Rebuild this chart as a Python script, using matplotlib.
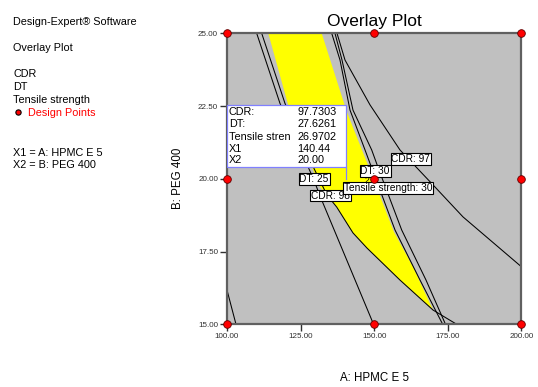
import matplotlib
matplotlib.use("Agg")
import matplotlib.pyplot as plt
from matplotlib.patches import Polygon, Rectangle
from matplotlib.lines import Line2D

plt.rcParams['font.family'] = ['Liberation Sans', 'DejaVu Sans']

# contour lines (A: HPMC E 5, B: PEG 400)
dt25_x = [110.09, 118.01, 129.22, 132.18, 149.8]
dt25_y = [25.0, 22.59, 20.03, 19.27, 15.0]

cdr98_x = [111.79, 119.71, 126.5, 133.98, 137.27, 142.81, 147.57, 158.78, 170.0, 178.05]
cdr98_y = [25.0, 22.59, 20.99, 19.44, 19.03, 18.14, 17.62, 16.52, 15.49, 15.0]

dt30_x = [135.58, 138.40, 141.80, 146.90, 149.44, 157.09, 165.58, 173.29]
dt30_y = [25.0, 24.08, 22.36, 20.99, 20.30, 18.24, 16.52, 15.0]

ts30_x = [136.70, 139.08, 142.81, 149.17, 151.65, 159.36, 167.62, 174.24]
ts30_y = [25.0, 24.08, 22.36, 20.99, 20.30, 18.24, 16.52, 15.0]

cdr97_x = [137.38, 140.10, 148.59, 158.78, 170.0, 180.19, 200.0]
cdr97_y = [25.0, 24.08, 22.54, 20.99, 19.79, 18.69, 16.98]

corner_x = [100.0, 103.06]
corner_y = [16.18, 15.0]

# yellow (feasible) region
yellow_x = [114.03, 132.18, 140.67, 148.59, 156.74, 163.20, 170.0,
            158.78, 147.57, 142.81, 137.27, 136.02, 131.6, 126.5, 121.41]
yellow_y = [25.0, 25.0, 22.31, 20.30, 18.17, 16.97, 15.49,
            16.52, 17.62, 18.14, 19.03, 19.17, 19.72, 20.99, 22.31]

# design points
design_x = [100, 150, 200, 100, 150, 200, 100, 150, 200]
design_y = [15, 15, 15, 20, 20, 20, 25, 25, 25]

# contour labels
labels = ["DT: 25", "CDR: 98", "DT: 30", "Tensile strength: 30", "CDR: 97"]
label_x = [129.6, 135.17, 150.3, 154.8, 162.46]
label_y = [20.0, 19.42, 20.27, 19.69, 20.67]

# flag box
flag_names = ["CDR:", "DT:", "Tensile stren", "X1", "X2"]
flag_values = ["97.7303", "27.6261", "26.9702", "140.44", "20.00"]
flag_pt = (140.44, 20.00)

x_ticks = [100, 125, 150, 175, 200]
y_ticks = [15, 17.5, 20, 22.5, 25]

fig = plt.figure(figsize=(5.38, 3.87), dpi=100)
ax = fig.add_axes([0.4219, 0.162, 0.9690 - 0.4219, 0.914 - 0.162])
ax.set_facecolor('#C0C0C0')
ax.set_xlim(100, 200)
ax.set_ylim(15, 25)

ax.add_patch(Polygon(list(zip(yellow_x, yellow_y)), closed=True, facecolor='#FFFF00',
                     edgecolor='none', zorder=1))

for xs, ys in [(dt25_x, dt25_y), (cdr98_x, cdr98_y), (dt30_x, dt30_y),
               (ts30_x, ts30_y), (cdr97_x, cdr97_y), (corner_x, corner_y)]:
    ax.plot(xs, ys, color='black', lw=0.75, zorder=2)

for t, lx, ly in zip(labels, label_x, label_y):
    ax.text(lx, ly, t, fontsize=7.3, ha='center', va='center', zorder=4,
            bbox=dict(boxstyle='square,pad=0.08', fc='white', ec='black', lw=0.8))

# flag
bx0, bx1, by0, by1 = 100.0, flag_pt[0], 20.42, 22.55
ax.add_patch(Rectangle((bx0, by0), bx1 - bx0, by1 - by0, facecolor='white',
                       edgecolor='#8080FF', lw=0.9, zorder=5))
ax.plot([flag_pt[0], flag_pt[0]], [by0, flag_pt[1]], color='#8080FF', lw=0.9, zorder=5)
row_y = [22.30, 21.88, 21.45, 21.04, 20.63]
for n, v, ry in zip(flag_names, flag_values, row_y):
    ax.text(100.68, ry, n, fontsize=7.8, va='center', ha='left', zorder=6)
    ax.text(123.89, ry, v, fontsize=7.8, va='center', ha='left', zorder=6)

ax.plot(design_x, design_y, 'o', color='#FF0000', mec='#600000', mew=0.6, ms=5.5,
        zorder=7, clip_on=False)
ax.text(147.7, 19.93, "2", fontsize=6.2, ha='center', va='center', zorder=6)

for s in ax.spines.values():
    s.set_color('#606060')
    s.set_linewidth(1.6)
ax.set_xticks(x_ticks)
ax.set_yticks(y_ticks)
ax.set_xticklabels([f"{v:.2f}" for v in x_ticks])
ax.set_yticklabels([f"{v:.2f}" for v in y_ticks])
ax.tick_params(direction='out', length=5, width=1, color='#303030',
               labelsize=5.8, labelcolor='#303030', pad=1.5)

ax.set_title("Overlay Plot", fontsize=12.5, pad=5)
ax.set_xlabel("A: HPMC E 5", fontsize=8.3, labelpad=23)
ax.set_ylabel("B: PEG 400", fontsize=8.3, labelpad=10)

# left side info text
fx = 13 / 538
def fy(py):
    return 1 - py / 387

fig.text(fx, fy(22), "Design-Expert® Software", fontsize=7.8, va='center')
fig.text(fx, fy(48), "Overlay Plot", fontsize=7.8, va='center')
fig.text(fx, fy(74), "CDR", fontsize=7.8, va='center')
fig.text(fx, fy(87), "DT", fontsize=7.8, va='center')
fig.text(fx, fy(100), "Tensile strength", fontsize=7.8, va='center')
fig.add_artist(Line2D([18 / 538], [fy(112)], marker='o', color='#FF0000', mec='black',
                      mew=0.8, ms=3.8, transform=fig.transFigure))
fig.text(28 / 538, fy(113), "Design Points", fontsize=7.8, va='center', color='#FF0000')
fig.text(fx, fy(153), "X1 = A: HPMC E 5", fontsize=7.8, va='center')
fig.text(fx, fy(165), "X2 = B: PEG 400", fontsize=7.8, va='center')

fig.savefig("out.png", dpi=100)
